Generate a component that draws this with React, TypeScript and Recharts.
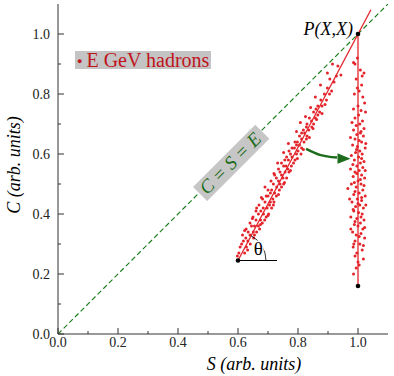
import React from 'react';
import { ComposedChart, XAxis, YAxis, Line, Scatter, Legend } from 'recharts';

// ---------- data ----------
const tickValues = [0, 0.1, 0.2, 0.3, 0.4, 0.5, 0.6, 0.7, 0.8, 0.9, 1.0];

// hadron points scattered around the fitted (inclined) line: [S, C]
const inclinedPoints: [number, number][] = [
  [0.603, 0.27], [0.622, 0.27], [0.628, 0.29], [0.607, 0.29], [0.641, 0.30],
  [0.618, 0.31], [0.633, 0.31], [0.652, 0.32], [0.626, 0.32], [0.640, 0.33],
  [0.615, 0.33], [0.662, 0.34], [0.634, 0.34], [0.651, 0.34], [0.627, 0.35],
  [0.672, 0.35], [0.645, 0.36], [0.668, 0.36], [0.655, 0.36], [0.681, 0.37],
  [0.640, 0.37], [0.660, 0.38], [0.689, 0.38], [0.675, 0.38], [0.650, 0.39],
  [0.694, 0.39], [0.668, 0.40], [0.685, 0.40], [0.702, 0.40], [0.676, 0.41],
  [0.660, 0.41], [0.697, 0.42], [0.712, 0.42], [0.684, 0.42], [0.670, 0.43],
  [0.705, 0.43], [0.690, 0.44], [0.720, 0.44], [0.708, 0.44], [0.682, 0.45],
  [0.716, 0.45], [0.700, 0.46], [0.728, 0.46], [0.694, 0.46], [0.722, 0.47],
  [0.708, 0.47], [0.738, 0.48], [0.712, 0.48], [0.700, 0.48], [0.729, 0.49],
  [0.745, 0.49], [0.718, 0.50], [0.740, 0.50], [0.752, 0.50], [0.710, 0.51],
  [0.735, 0.51], [0.750, 0.52], [0.728, 0.52], [0.762, 0.52], [0.745, 0.53],
  [0.722, 0.53], [0.770, 0.54], [0.740, 0.54], [0.757, 0.54], [0.735, 0.55],
  [0.766, 0.55], [0.752, 0.56], [0.778, 0.56], [0.760, 0.56], [0.785, 0.57],
  [0.745, 0.57], [0.768, 0.58], [0.790, 0.58], [0.756, 0.58], [0.780, 0.59],
  [0.762, 0.59], [0.795, 0.60], [0.775, 0.60], [0.810, 0.60], [0.770, 0.61],
  [0.800, 0.61], [0.788, 0.62], [0.812, 0.62], [0.780, 0.62], [0.805, 0.63],
  [0.795, 0.63], [0.820, 0.64], [0.798, 0.64], [0.790, 0.64], [0.812, 0.65],
  [0.828, 0.65], [0.805, 0.66], [0.830, 0.66], [0.822, 0.67], [0.812, 0.67],
  [0.836, 0.68], [0.818, 0.68], [0.846, 0.69], [0.828, 0.69], [0.830, 0.70],
  [0.852, 0.70], [0.845, 0.71], [0.858, 0.72], [0.838, 0.72], [0.866, 0.73],
  [0.852, 0.74], [0.872, 0.74], [0.860, 0.75], [0.880, 0.76], [0.866, 0.76],
  [0.876, 0.78], [0.895, 0.78], [0.888, 0.80], [0.905, 0.80], [0.898, 0.82],
  [0.920, 0.84], [0.906, 0.85], [0.943, 0.863], [0.933, 0.893],
  [0.598, 0.26], [0.632, 0.28], [0.612, 0.30], [0.655, 0.33], [0.622, 0.345],
  [0.675, 0.365], [0.648, 0.385], [0.700, 0.395], [0.662, 0.42], [0.718, 0.43],
  [0.678, 0.455], [0.735, 0.465], [0.690, 0.49], [0.755, 0.505], [0.720, 0.535],
  [0.775, 0.545], [0.732, 0.57], [0.798, 0.585], [0.752, 0.605], [0.818, 0.615],
  [0.768, 0.635], [0.838, 0.655], [0.795, 0.675], [0.850, 0.685], [0.808, 0.705],
  [0.862, 0.715], [0.825, 0.725], [0.880, 0.735], [0.842, 0.755], [0.890, 0.765],
  [0.858, 0.79], [0.912, 0.81], [0.875, 0.83], [0.928, 0.86], [0.898, 0.87],
  [0.915, 0.90],
];

// hadron points scattered around the vertical line S = 1: [S, C]
const verticalPoints: [number, number][] = [
  [0.998, 0.92], [0.990, 0.90], [1.008, 0.88], [1.020, 0.87], [0.994, 0.85],
  [1.012, 0.83], [1.004, 0.81], [0.988, 0.80], [1.016, 0.79], [1.022, 0.77],
  [1.000, 0.76], [0.985, 0.75], [1.010, 0.745], [1.002, 0.73], [0.990, 0.72],
  [1.015, 0.71], [1.006, 0.70], [0.994, 0.695], [1.020, 0.685], [0.985, 0.68],
  [1.008, 0.67], [0.996, 0.665], [1.018, 0.66], [0.990, 0.65], [1.004, 0.645],
  [1.012, 0.64], [0.982, 0.63], [0.998, 0.625], [1.024, 0.62], [1.006, 0.61],
  [0.992, 0.605], [1.014, 0.60], [0.978, 0.595], [1.002, 0.59], [0.988, 0.58],
  [1.020, 0.575], [1.008, 0.57], [0.996, 0.56], [1.016, 0.555], [0.975, 0.55],
  [1.004, 0.545], [0.990, 0.54], [1.012, 0.53], [0.984, 0.525], [1.022, 0.52],
  [1.000, 0.51], [0.988, 0.505], [1.010, 0.50], [0.994, 0.49], [0.966, 0.485],
  [1.016, 0.48], [1.004, 0.47], [0.986, 0.465], [1.024, 0.46], [0.998, 0.45],
  [1.012, 0.445], [0.980, 0.44], [1.006, 0.43], [0.992, 0.425], [1.018, 0.42],
  [0.986, 0.41], [1.002, 0.405], [1.014, 0.40], [0.976, 0.39], [0.996, 0.385],
  [1.020, 0.38], [1.008, 0.37], [0.988, 0.365], [1.000, 0.36], [1.016, 0.35],
  [0.982, 0.34], [1.010, 0.335], [0.994, 0.33], [1.022, 0.32], [0.990, 0.31],
  [1.006, 0.30], [0.984, 0.29], [1.014, 0.28], [0.996, 0.27], [0.990, 0.26],
  [1.018, 0.25], [1.004, 0.23], [0.994, 0.22],
  [0.985, 0.905], [1.014, 0.86], [0.998, 0.82], [1.025, 0.74], [0.980, 0.705],
  [1.010, 0.675], [0.975, 0.655], [1.026, 0.635], [0.995, 0.615], [1.012, 0.585],
  [0.983, 0.565], [1.024, 0.545], [0.996, 0.535], [1.008, 0.515], [0.978, 0.50],
  [1.020, 0.495], [0.990, 0.475], [1.012, 0.455], [0.972, 0.45], [1.000, 0.435],
  [1.026, 0.43], [0.984, 0.415], [1.010, 0.39], [0.990, 0.375], [1.022, 0.355],
  [0.976, 0.35], [1.004, 0.325], [0.986, 0.30], [1.018, 0.295], [1.000, 0.24],
  [0.985, 0.20],
];

const diagonalLine: [number, number][] = [[0, 0], [1.1, 1.1]];
const fitLine: [number, number][] = [[0.6, 0.245], [1.043, 1.081]];
const projectedLine: [number, number][] = [[1.0, 0.16], [1.0, 1.0]];
const thetaBaseLine: [number, number][] = [[0.6, 0.245], [0.73, 0.245]];
const keyPoints: [number, number][] = [[1.0, 1.0], [0.6, 0.245], [1.0, 0.16]];
const arrowCurve: [number, number][] = [[0.827, 0.617], [0.873, 0.597], [0.93, 0.588]];
const arrowTip: [number, number][] = [[0.975, 0.584]];

// annotation anchors (data units)
const pointLabelAt: [number, number][] = [[1.0, 1.0]];
const thetaLabelAt: [number, number][] = [[0.668, 0.283]];
const thetaArcAt: [number, number][] = [[0.6, 0.245]];
const diagLabelAt: [number, number][] = [[0.575, 0.568]];

const legendText = 'E GeV hadrons';
const pointLabel = 'P(X,X)';
const diagLabel = 'C = S = E';

const toXY = (arr: [number, number][]) => arr.map(([x, y]) => ({ x, y }));

// ---------- styles ----------
const FONT = '"Liberation Serif", serif';
const AXIS = '#333';
const RED = '#e3242b';
const GREEN = '#1d6b1d';

const isMajor = (v: number) => Math.round(v * 10) % 2 === 0;

const BottomTick = (p: any) => {
  const { x, y, payload } = p;
  const m = isMajor(payload.value);
  return (
    <g>
      <line x1={x} y1={y} x2={x} y2={y - (m ? 6 : 3)} stroke={AXIS} />
      {m && (
        <text x={x} y={y + 13} textAnchor="middle" style={{ fontFamily: FONT }} fontSize={14} fill="#222">
          {payload.value.toFixed(1)}
        </text>
      )}
    </g>
  );
};
const TopTick = (p: any) => {
  const { x, y, payload } = p;
  const m = isMajor(payload.value);
  return <line x1={x} y1={y} x2={x} y2={y + (m ? 6 : 3)} stroke={AXIS} />;
};
const LeftTick = (p: any) => {
  const { x, y, payload } = p;
  const m = isMajor(payload.value);
  return (
    <g>
      <line x1={x} y1={y} x2={x + (m ? 6 : 3)} y2={y} stroke={AXIS} />
      {m && (
        <text x={x - 8} y={y + 5} textAnchor="end" style={{ fontFamily: FONT }} fontSize={14} fill="#222">
          {payload.value.toFixed(1)}
        </text>
      )}
    </g>
  );
};
const RightTick = (p: any) => {
  const { x, y, payload } = p;
  const m = isMajor(payload.value);
  return <line x1={x} y1={y} x2={x - (m ? 6 : 3)} y2={y} stroke={AXIS} />;
};

const Dot = (p: any) => <circle cx={p.cx} cy={p.cy} r={1.5} fill={RED} />;
const BlackDot = (p: any) => <circle cx={p.cx} cy={p.cy} r={2.3} fill="#000" />;
const ArrowHead = (p: any) => (
  <polygon
    points={`${p.cx},${p.cy} ${p.cx - 13},${p.cy - 5.5} ${p.cx - 13},${p.cy + 5}`}
    fill={GREEN}
  />
);
const PointLabel = (p: any) => (
  <text x={p.cx - 5} y={p.cy + 1} textAnchor="end" style={{ fontFamily: FONT }} fontStyle="italic" fontSize={18} fill="#000">
    {pointLabel}
  </text>
);
const ThetaLabel = (p: any) => (
  <text
    x={p.cx}
    y={p.cy + 6}
    textAnchor="middle"
    style={{ fontFamily: FONT }}
    fontSize={19}
    fill="#000"
    stroke="#fff"
    strokeWidth={3}
    paintOrder="stroke"
  >
    θ
  </text>
);
const ThetaArc = (p: any) => {
  const r = 28;
  const a = Math.atan2(1.081 - 0.245, 1.043 - 0.6);
  const sx = p.cx + r * Math.cos(a);
  const sy = p.cy - r * Math.sin(a);
  return <path d={`M${sx},${sy} A${r},${r} 0 0 1 ${p.cx + r},${p.cy}`} fill="none" stroke="#000" strokeWidth={0.8} />;
};
const DiagLabel = (p: any) => (
  <g transform={`translate(${p.cx},${p.cy}) rotate(-45)`}>
    <rect x={-43} y={-10} width={88} height={20} fill="#c6c6c6" />
    <text x={0} y={6} textAnchor="middle" style={{ fontFamily: FONT }} fontStyle="italic" fontSize={19} fill={GREEN}>
      {diagLabel}
    </text>
  </g>
);

const LegendBox = () => (
  <div
    style={{
      background: '#c4c4c4',
      color: '#c0141c',
      fontFamily: FONT,
      fontSize: 20,
      lineHeight: '18px',
      height: 18,
      display: 'inline-block',
      paddingRight: 2,
      whiteSpace: 'nowrap',
    }}
  >
    <span style={{ fontSize: 9, position: 'relative', top: -3, marginLeft: 2, marginRight: 4 }}>●</span>
    {legendText}
  </div>
);

export default function App() {
  return (
    <div style={{ position: 'absolute', left: 0, top: 0 }}>
      <ComposedChart width={394} height={376} margin={{ top: 4, right: 6, bottom: 0, left: 0 }}>
        <XAxis
          xAxisId={0}
          type="number"
          dataKey="x"
          domain={[0, 1.1]}
          ticks={tickValues}
          allowDataOverflow
          height={42}
          tickSize={0}
          tickMargin={0}
          tick={<BottomTick />}
          axisLine={{ stroke: AXIS }}
          tickLine={false}
          interval={0}
          label={{
            content: () => (
              <text x={254} y={370} textAnchor="middle" style={{ fontFamily: FONT }} fontStyle="italic" fontSize={18} fill="#000">
                S (arb. units)
              </text>
            ),
          }}
        />
        <XAxis
          xAxisId="top"
          orientation="top"
          type="number"
          dataKey="x"
          domain={[0, 1.1]}
          ticks={tickValues}
          allowDataOverflow
          height={0}
          tickSize={0}
          tickMargin={0}
          tick={<TopTick />}
          axisLine={{ stroke: AXIS }}
          tickLine={false}
          interval={0}
        />
        <YAxis
          yAxisId={0}
          type="number"
          dataKey="y"
          domain={[0, 1.1]}
          ticks={tickValues}
          allowDataOverflow
          width={58}
          tickSize={0}
          tickMargin={0}
          tick={<LeftTick />}
          axisLine={{ stroke: AXIS }}
          tickLine={false}
          interval={0}
          label={{
            content: () => (
              <text
                x={0}
                y={0}
                transform="translate(20,165) rotate(-90)"
                textAnchor="middle"
                style={{ fontFamily: FONT }}
                fontStyle="italic"
                fontSize={18}
                fill="#000"
              >
                C (arb. units)
              </text>
            ),
          }}
        />
        <YAxis
          yAxisId="right"
          orientation="right"
          type="number"
          dataKey="y"
          domain={[0, 1.1]}
          ticks={tickValues}
          allowDataOverflow
          width={0}
          tickSize={0}
          tickMargin={0}
          tick={<RightTick />}
          axisLine={{ stroke: AXIS }}
          tickLine={false}
          interval={0}
        />
        <Legend
          layout="horizontal"
          verticalAlign="middle"
          wrapperStyle={{ left: 75, top: 51, width: 'auto', height: 18 }}
          content={<LegendBox />}
        />
        <Line data={toXY(diagonalLine)} dataKey="y" type="linear" stroke="#1e801e" strokeWidth={1.2} strokeDasharray="5 3" dot={false} activeDot={false} isAnimationActive={false} />
        <Scatter data={toXY(inclinedPoints)} dataKey="y" shape={<Dot />} isAnimationActive={false} />
        <Scatter data={toXY(verticalPoints)} dataKey="y" shape={<Dot />} isAnimationActive={false} />
        <Line data={toXY(fitLine)} dataKey="y" type="linear" stroke={RED} strokeWidth={1.3} dot={false} activeDot={false} isAnimationActive={false} />
        <Line data={toXY(projectedLine)} dataKey="y" type="linear" stroke={RED} strokeWidth={1.3} dot={false} activeDot={false} isAnimationActive={false} />
        <Line data={toXY(thetaBaseLine)} dataKey="y" type="linear" stroke="#000" strokeWidth={1} dot={false} activeDot={false} isAnimationActive={false} />
        <Scatter data={toXY(thetaArcAt)} dataKey="y" shape={<ThetaArc />} isAnimationActive={false} />
        <Scatter data={toXY(thetaLabelAt)} dataKey="y" shape={<ThetaLabel />} isAnimationActive={false} />
        <Line data={toXY(arrowCurve)} dataKey="y" type="monotone" stroke={GREEN} strokeWidth={2.5} dot={false} activeDot={false} isAnimationActive={false} />
        <Scatter data={toXY(arrowTip)} dataKey="y" shape={<ArrowHead />} isAnimationActive={false} />
        <Scatter data={toXY(keyPoints)} dataKey="y" shape={<BlackDot />} isAnimationActive={false} />
        <Scatter data={toXY(pointLabelAt)} dataKey="y" shape={<PointLabel />} isAnimationActive={false} />
        <Scatter data={toXY(diagLabelAt)} dataKey="y" shape={<DiagLabel />} isAnimationActive={false} />
      </ComposedChart>
    </div>
  );
}
